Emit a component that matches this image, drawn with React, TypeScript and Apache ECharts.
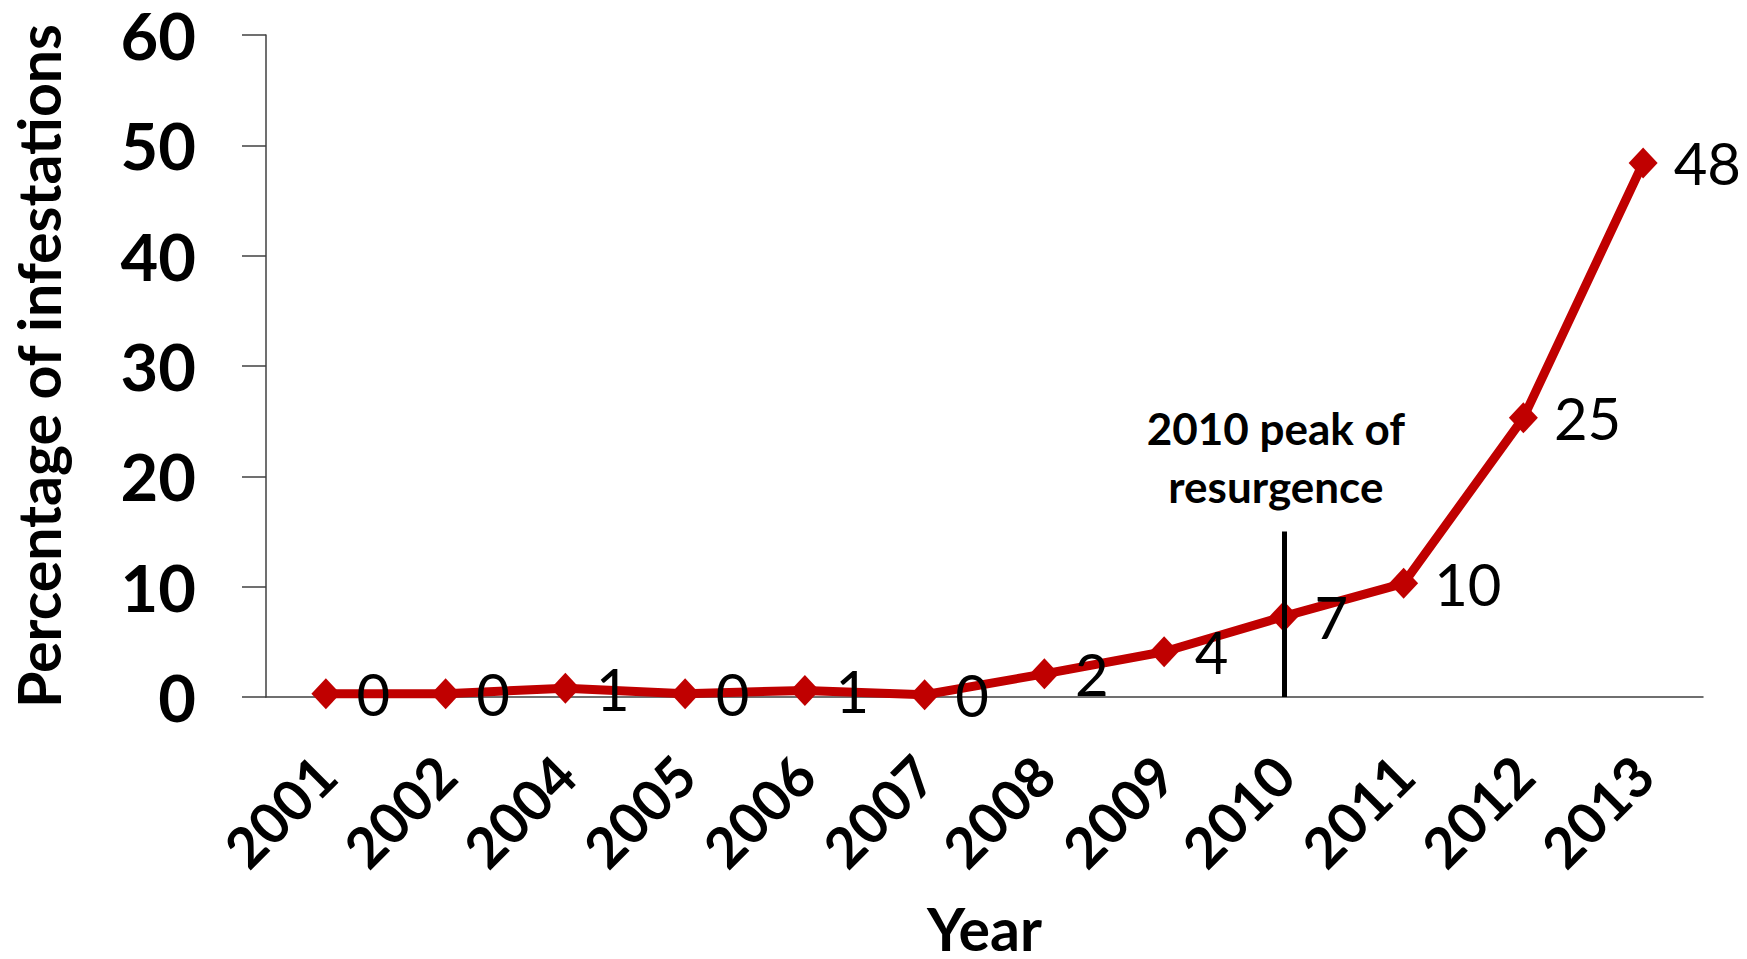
import React, { useEffect, useRef } from "react";
import * as echarts from "echarts";

// Share of infestations by year (%)
const years = ["2001", "2002", "2004", "2005", "2006", "2007", "2008", "2009", "2010", "2011", "2012", "2013"];
const percentages = [0.3, 0.3, 0.8, 0.3, 0.6, 0.2, 2.1, 4.1, 7.3, 10.3, 25.3, 48.4];
const yTicks = { min: 0, max: 60, interval: 10 };

// Marker line for the resurgence peak year
const peakYear = "2010";
const peakLineTop = 15;
const peakNote = "2010 peak of\nresurgence";

const FONT = "Lato";

export default function App() {
  const ref = useRef<HTMLDivElement>(null);

  useEffect(() => {
    if (!ref.current) return;
    const chart = echarts.init(ref.current, null, { renderer: "svg" });
    chart.setOption({
      animation: false,
      backgroundColor: "#ffffff",
      textStyle: { fontFamily: FONT },
      grid: {
        left: 266,
        right: 44,
        top: 35,
        bottom: 262,
        containLabel: false,
        outerBoundsMode: "none",
      },
      xAxis: {
        type: "category",
        data: years,
        boundaryGap: true,
        axisLine: { show: true, lineStyle: { color: "#404040", width: 1.5 } },
        axisTick: { show: false },
        axisLabel: {
          rotate: 45,
          margin: 68,
          fontFamily: FONT,
          fontWeight: "bold",
          fontSize: 56,
          color: "#000000",
          interval: 0,
        },
        name: "Year",
        nameLocation: "middle",
        nameGap: 207,
        nameTextStyle: { fontFamily: FONT, fontWeight: "bold", fontSize: 59, lineHeight: 48, color: "#000000" },
      },
      yAxis: {
        type: "value",
        min: yTicks.min,
        max: yTicks.max,
        interval: yTicks.interval,
        axisLine: { show: true, lineStyle: { color: "#404040", width: 1.5 } },
        axisTick: { show: true, length: 24, lineStyle: { color: "#404040", width: 1.5 } },
        splitLine: { show: false },
        axisLabel: {
          margin: 70,
          fontFamily: FONT,
          fontWeight: "bold",
          fontSize: 65,
          lineHeight: 40,
          color: "#000000",
        },
        name: "Percentage of infestations",
        nameLocation: "middle",
        nameRotate: 90,
        nameGap: 198,
        nameTextStyle: { fontFamily: FONT, fontWeight: "bold", fontSize: 59, lineHeight: 59, color: "#000000" },
      },
      series: [
        {
          type: "line",
          data: percentages,
          color: "#C00000",
          lineStyle: { color: "#C00000", width: 9 },
          itemStyle: { color: "#C00000" },
          symbol: "diamond",
          symbolSize: [29, 31],
          label: {
            show: true,
            position: "right",
            distance: 16,
            fontFamily: FONT,
            fontSize: 58,
            color: "#000000",
            formatter: (p: any) => String(Math.round(p.value)),
          },
          markLine: {
            silent: true,
            symbol: "none",
            label: { show: false },
            lineStyle: { color: "#000000", width: 5, type: "solid" },
            data: [[{ coord: [peakYear, peakLineTop] }, { coord: [peakYear, 0] }]],
          },
          markPoint: {
            silent: true,
            symbol: "circle",
            symbolSize: 0,
            data: [{ coord: [peakYear, peakLineTop] }],
            label: {
              show: true,
              position: "top",
              distance: 17,
              offset: [-8, 0],
              formatter: peakNote,
              fontFamily: FONT,
              fontWeight: "bold",
              fontSize: 44,
              lineHeight: 58,
              color: "#000000",
              align: "center",
            },
          },
        },
      ],
    });
    return () => chart.dispose();
  }, []);

  return (
    <div
      ref={ref}
      style={{ position: "fixed", left: 0, top: 0, width: 1747, height: 959, background: "#ffffff" }}
    />
  );
}
